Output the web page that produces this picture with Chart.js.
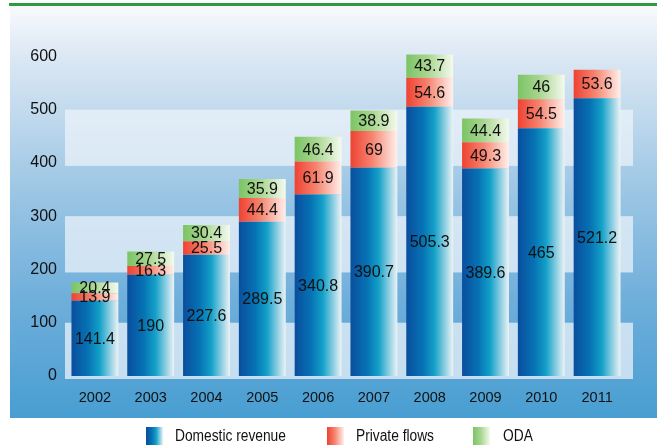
<!DOCTYPE html>
<html>
<head>
<meta charset="utf-8">
<script src="https://cdn.jsdelivr.net/npm/chart.js@4/dist/chart.umd.min.js"></script>
<style>
  html, body { margin: 0; padding: 0; background: #fff; }
  canvas { display: block; }
</style>
</head>
<body>
<canvas id="myChart" width="657" height="448"></canvas>
<script>
// chart values
var years = ['2002', '2003', '2004', '2005', '2006', '2007', '2008', '2009', '2010', '2011'];
var domesticRevenue = [141.4, 190, 227.6, 289.5, 340.8, 390.7, 505.3, 389.6, 465, 521.2];
var privateFlows = [13.9, 16.3, 25.5, 44.4, 61.9, 69, 54.6, 49.3, 54.5, 53.6];
var oda = [20.4, 27.5, 30.4, 35.9, 46.4, 38.9, 43.7, 44.4, 46, null];
var yTicks = [0, 100, 200, 300, 400, 500, 600];

var seriesNames = ['Domestic revenue', 'Private flows', 'ODA'];
var stops = [
  [[0, '#0a4e9e'], [0.35, '#0672b4'], [0.6, '#13a0c8'], [1, '#eef3f6']],
  [[0, '#ee4232'], [0.45, '#f6826e'], [1, '#fff1ec']],
  [[0, '#7cc465'], [0.45, '#a6d68e'], [1, '#f5faee']]
];

function makeGrad(ctx2d, x0, x1, s) {
  var g = ctx2d.createLinearGradient(x0, 0, x1, 0);
  s.forEach(function (p) { g.addColorStop(p[0], p[1]); });
  return g;
}

function barFill(idx) {
  return function (c) {
    var chart = c.chart;
    if (!chart.scales || !chart.scales.x || c.dataIndex === undefined) return stops[idx][0][1];
    var x = chart.scales.x.getPixelForValue(c.dataIndex);
    if (!isFinite(x)) return stops[idx][0][1];
    return makeGrad(chart.ctx, x - 23.5, x + 23.5, stops[idx]);
  };
}

// background, bands, green top rule and legend
var backdrop = {
  id: 'backdrop',
  beforeDraw: function (chart) {
    var ctx = chart.ctx;
    var y = chart.scales.y;
    ctx.save();
    ctx.fillStyle = '#ffffff';
    ctx.fillRect(0, 0, chart.width, chart.height);
    var g = ctx.createLinearGradient(0, 6, 0, 418);
    g.addColorStop(0, '#f8fafd');
    g.addColorStop(0.12, '#dce8f4');
    g.addColorStop(0.45, '#9cc6e4');
    g.addColorStop(0.72, '#6eaedb');
    g.addColorStop(1, '#489ed1');
    ctx.fillStyle = g;
    ctx.fillRect(10, 6, chart.width - 10, 412);
    ctx.fillStyle = 'rgba(236,243,250,0.74)';
    [[0, 100], [200, 300], [400, 500]].forEach(function (b) {
      var top = y.getPixelForValue(b[1]);
      var bot = y.getPixelForValue(b[0]) + 3;
      ctx.fillRect(65, top, 633 - 65, bot - top);
    });
    ctx.fillStyle = '#2f9a40';
    ctx.fillRect(9, 3, chart.width - 9, 3);
    ctx.restore();
  },
  afterDraw: function (chart) {
    var ctx = chart.ctx;
    var items = [[146, 175], [327, 356], [473, 503]];
    ctx.save();
    ctx.font = '16px "Liberation Sans", Arial, sans-serif';
    ctx.textBaseline = 'middle';
    items.forEach(function (it, i) {
      ctx.fillStyle = makeGrad(ctx, it[0], it[0] + 17, stops[i]);
      ctx.fillRect(it[0], 427, 17, 18);
      ctx.fillStyle = '#111';
      // condensed face in the original
      ctx.save();
      ctx.translate(it[1], 437);
      ctx.scale(0.86, 1);
      ctx.fillText(seriesNames[i], 0, 0);
      ctx.restore();
    });
    ctx.restore();
  }
};

// value labels inside each segment
var segLabels = {
  id: 'segLabels',
  afterDatasetsDraw: function (chart) {
    var ctx = chart.ctx;
    ctx.save();
    ctx.font = '16px "Liberation Sans", Arial, sans-serif';
    ctx.fillStyle = '#111';
    ctx.textAlign = 'center';
    ctx.textBaseline = 'middle';
    chart.data.datasets.forEach(function (ds, di) {
      var meta = chart.getDatasetMeta(di);
      meta.data.forEach(function (el, i) {
        var v = ds.data[i];
        if (v === null || v === undefined) return;
        ctx.fillText(String(v), el.x, (el.y + el.base) / 2 + 1);
      });
    });
    ctx.restore();
  }
};

var element = document.getElementById('myChart').getContext('2d');

var chartData = {
  labels: years,
  datasets: [
    { label: seriesNames[0], data: domesticRevenue, backgroundColor: barFill(0) },
    { label: seriesNames[1], data: privateFlows, backgroundColor: barFill(1) },
    { label: seriesNames[2], data: oda, backgroundColor: barFill(2) }
  ]
};

var chartOptions = {
  responsive: false,
  animation: false,
  layout: { padding: { left: 10, right: 32, top: 6, bottom: 30 } },
  datasets: { bar: { barPercentage: 0.84, categoryPercentage: 1, borderWidth: 0 } },
  plugins: { legend: { display: false }, tooltip: { enabled: false } },
  scales: {
    x: {
      stacked: true,
      grid: { display: false, drawTicks: false },
      border: { display: false },
      ticks: { color: '#111', font: { size: 14.5, family: '"Liberation Sans", Arial, sans-serif' }, padding: 13 },
      afterFit: function (s) { s.height = 42; }
    },
    y: {
      stacked: true,
      min: 0,
      max: 669,
      grid: { display: false, drawTicks: false },
      border: { display: false },
      afterBuildTicks: function (s) { s.ticks = yTicks.map(function (v) { return { value: v }; }); },
      ticks: { color: '#111', font: { size: 16, family: '"Liberation Sans", Arial, sans-serif' }, padding: 10 },
      afterFit: function (s) { s.width = 57; }
    }
  }
};

var chart = new Chart(element, { type: 'bar', data: chartData, options: chartOptions, plugins: [backdrop, segLabels] });
</script>
</body>
</html>
